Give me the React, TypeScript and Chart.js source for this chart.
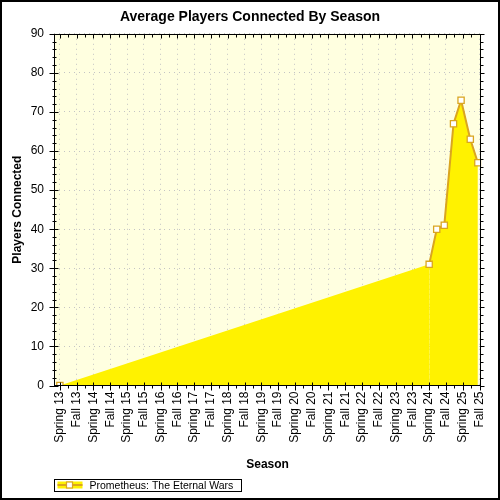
import React, { useEffect, useRef } from 'react';
import { Chart, registerables } from 'chart.js';

Chart.register(...registerables);

const chartTitle = 'Average Players Connected By Season';
const xTitle = 'Season';
const yTitle = 'Players Connected';
const seriesName = 'Prometheus: The Eternal Wars';

const seasons = [
  'Spring 13', 'Fall 13', 'Spring 14', 'Fall 14', 'Spring 15', 'Fall 15',
  'Spring 16', 'Fall 16', 'Spring 17', 'Fall 17', 'Spring 18', 'Fall 18',
  'Spring 19', 'Fall 19', 'Spring 20', 'Fall 20', 'Spring 21', 'Fall 21',
  'Spring 22', 'Fall 22', 'Spring 23', 'Fall 23', 'Spring 24', 'Fall 24',
  'Spring 25', 'Fall 25',
];

// position of each sample along the season axis (index into seasons)
const samplePositions = [0, 22, 22.45, 22.9, 23.45, 23.9, 24.45, 24.9];
const playersConnected = [0, 31, 40, 41, 67, 73, 63, 57];

const yMin = 0;
const yMax = 90;
const yStep = 10;
const yMinorStep = 2;
const xMinorStep = 0.5;

const FONT = "'Liberation Sans', Arial, Helvetica, sans-serif";
const FILL = '#FFF200';
const LINE = '#DAA520';
const PLOT_BG = '#FFFFE0';
const GRID = '#C4C4C4';

const decorPlugin = {
  id: 'decor',
  beforeDraw(chart: any) {
    const { ctx, chartArea: a, width, height } = chart;
    ctx.save();
    ctx.fillStyle = '#ffffff';
    ctx.fillRect(0, 0, width, height);
    ctx.fillStyle = PLOT_BG;
    ctx.fillRect(a.left, a.top, a.right - a.left, a.bottom - a.top);
    ctx.restore();
  },
  afterDraw(chart: any) {
    const { ctx, chartArea: a, scales, width, height } = chart;
    const xs = scales.x;
    const ys = scales.y;
    ctx.save();
    ctx.strokeStyle = '#000';
    ctx.lineWidth = 1;
    ctx.beginPath();
    const L = Math.round(a.left) + 0.5;
    const R = Math.round(a.right) - 0.5;
    const T = Math.round(a.top) + 0.5;
    const B = Math.round(a.bottom) - 0.5;
    const nMinorX = Math.round((seasons.length - 1) / xMinorStep);
    for (let i = 0; i <= nMinorX; i++) {
      const v = i * xMinorStep;
      const major = Math.abs(v - Math.round(v)) < 1e-9;
      const px = Math.round(xs.getPixelForValue(v)) + 0.5;
      ctx.moveTo(px, B - (major ? 3 : 0));
      ctx.lineTo(px, B + (major ? 5 : 3));
      ctx.moveTo(px, T);
      ctx.lineTo(px, T + (major ? 4 : 3));
    }
    const nMinorY = Math.round((yMax - yMin) / yMinorStep);
    for (let i = 0; i <= nMinorY; i++) {
      const v = yMin + i * yMinorStep;
      const major = v % yStep === 0;
      const py = Math.round(ys.getPixelForValue(v)) + 0.5;
      ctx.moveTo(L - (major ? 5 : 2), py);
      ctx.lineTo(L + (major ? 4 : 2), py);
      ctx.moveTo(R, py);
      ctx.lineTo(R + (major ? 4 : 3), py);
    }
    ctx.stroke();
    ctx.strokeRect(L, T, R - L, B - T);

    // legend
    const lx = L, ly = 479.5, lw = 187, lh = 12;
    ctx.fillStyle = '#fff';
    ctx.fillRect(lx, ly, lw, lh);
    ctx.strokeRect(lx, ly, lw, lh);
    ctx.fillStyle = FILL;
    ctx.fillRect(lx + 3, ly + 2, 25, 7);
    ctx.strokeStyle = LINE;
    ctx.lineWidth = 2;
    ctx.beginPath();
    ctx.moveTo(lx + 3, ly + 5.5);
    ctx.lineTo(lx + 28, ly + 5.5);
    ctx.stroke();
    ctx.fillStyle = '#fff';
    ctx.lineWidth = 1.2;
    ctx.fillRect(lx + 12, ly + 2.5, 6, 6);
    ctx.strokeRect(lx + 12, ly + 2.5, 6, 6);
    ctx.fillStyle = '#000';
    ctx.font = `10.5px ${FONT}`;
    ctx.textBaseline = 'middle';
    ctx.textAlign = 'left';
    ctx.fillText(seriesName, lx + 35, ly + 6.5);

    // outer frame
    ctx.strokeStyle = '#000';
    ctx.lineWidth = 2;
    ctx.strokeRect(1, 1, width - 2, height - 2);
    ctx.restore();
  },
};

export default function App() {
  const canvasRef = useRef<HTMLCanvasElement | null>(null);

  useEffect(() => {
    document.body.style.margin = '0';
    const canvas = canvasRef.current;
    if (!canvas) return;
    Chart.defaults.font.family = FONT;
    Chart.defaults.color = '#000';

    const points = samplePositions.map((x, i) => ({ x, y: playersConnected[i] }));

    const chart = new Chart(canvas, {
      type: 'line',
      data: {
        datasets: [
          {
            label: seriesName,
            data: points,
            fill: 'origin',
            backgroundColor: FILL,
            borderColor: LINE,
            borderWidth: 2,
            tension: 0,
            pointStyle: 'rect',
            pointRadius: 4.4,
            pointBorderWidth: 1.3,
            pointBackgroundColor: '#ffffff',
            pointBorderColor: LINE,
            segment: {
              borderColor: (c: any) => (c.p0DataIndex === 0 ? 'rgba(0,0,0,0)' : LINE),
            },
          },
        ],
      },
      plugins: [decorPlugin],
      options: {
        animation: false,
        responsive: false,
        events: [],
        layout: { padding: { left: 0, right: 0, top: 0, bottom: 28 } },
        plugins: {
          legend: { display: false },
          tooltip: { enabled: false },
          title: {
            display: true,
            text: chartTitle,
            font: { size: 14, weight: 'bold', family: FONT },
            color: '#000',
            padding: { top: 9, bottom: 8 },
          },
        },
        scales: {
          x: {
            type: 'linear',
            min: -0.35,
            max: 25.1,
            afterBuildTicks: (scale: any) => {
              scale.ticks = seasons.map((_, i) => ({ value: i }));
            },
            afterFit: (scale: any) => {
              scale.height = 86.5;
            },
            ticks: {
              autoSkip: false,
              minRotation: 90,
              maxRotation: 90,
              padding: 6,
              font: { size: 12, family: FONT },
              color: '#000',
              callback: (v: any) => seasons[Math.round(Number(v))] ?? '',
            },
            grid: { display: true, drawTicks: false, color: GRID, lineWidth: 1 },
            border: { display: false, dash: [1, 4] },
            title: {
              display: true,
              text: xTitle,
              font: { size: 12, weight: 'bold', family: FONT },
              color: '#000',
              padding: { top: 0, bottom: 0 },
            },
          },
          y: {
            type: 'linear',
            position: 'left',
            min: yMin,
            max: yMax,
            afterFit: (scale: any) => {
              scale.width = 54;
            },
            ticks: {
              stepSize: yStep,
              padding: 10,
              font: { size: 12, family: FONT },
              color: '#000',
            },
            grid: { display: true, drawTicks: false, color: GRID, lineWidth: 1 },
            border: { display: false, dash: [1, 4] },
            title: {
              display: true,
              text: yTitle,
              font: { size: 12, weight: 'bold', family: FONT },
              color: '#000',
              padding: { top: 10, bottom: 0 },
            },
          },
          yRight: {
            type: 'linear',
            position: 'right',
            display: true,
            afterFit: (scale: any) => {
              scale.width = 17.5;
            },
            ticks: { display: false },
            grid: { display: false, drawOnChartArea: false },
            border: { display: false },
          },
        },
      } as any,
    });
    return () => chart.destroy();
  }, []);

  return (
    <div style={{ width: 500, height: 500 }}>
      <canvas ref={canvasRef} width={500} height={500} style={{ display: 'block' }} />
    </div>
  );
}
